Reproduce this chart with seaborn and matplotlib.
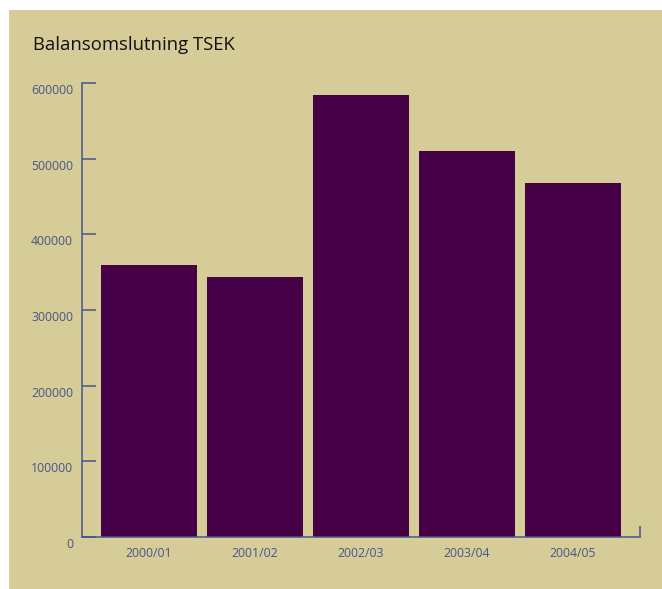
import matplotlib
matplotlib.use("Agg")
import matplotlib.pyplot as plt
import matplotlib.transforms as mtransforms
from matplotlib.patches import Rectangle
from matplotlib.ticker import FixedLocator
import seaborn as sns
import pandas as pd

years = ["2000/01", "2001/02", "2002/03", "2003/04", "2004/05"]
values = [359500, 343500, 584000, 510000, 468000]
yticks = [0, 100000, 200000, 300000, 400000, 500000, 600000]
title = "Balansomslutning TSEK"

W, H = 662, 589
BG = "#d6cc98"
BAR = "#460046"
AX = "#46558a"

sns.set_style("white")
plt.rcParams['font.family'] = ['Open Sans', 'DejaVu Sans']

fig = plt.figure(figsize=(W / 100, H / 100), dpi=100, facecolor="white")
bg = Rectangle((9 / W, 0), (W - 9) / W, (H - 10) / H,
               transform=fig.transFigure, facecolor=BG,
               edgecolor="none", zorder=-10)
fig.patches.append(bg)

ax = fig.add_axes([82 / W, (H - 537) / H, (640 - 82) / W, (537 - 83) / H])
ax.set_facecolor("none")
ax.set_zorder(5)

df = pd.DataFrame({"year": years, "value": values})
sns.barplot(data=df, x="year", y="value", color=BAR, saturation=1,
            width=0.906, ax=ax, edgecolor="none", linewidth=0)

ax.set_xlim(-0.632, 4.632)
ax.set_ylim(0, 600000)
ax.set_xlabel("")
ax.set_ylabel("")

for s in ["top", "right"]:
    ax.spines[s].set_visible(False)
for s in ["left", "bottom"]:
    ax.spines[s].set_color(AX)
    ax.spines[s].set_linewidth(1.1)

ax.set_yticks(yticks)
ax.set_yticklabels([str(v) for v in yticks])
ax.tick_params(axis="y", direction="in", length=10, width=1.1, color=AX,
               labelcolor=AX, labelsize=8.8, pad=6.5, left=True)
ax.tick_params(axis="x", length=0, labelcolor=AX, labelsize=8.8, pad=7)
ax.xaxis.set_minor_locator(FixedLocator([4.632]))
ax.tick_params(axis="x", which="minor", direction="in", length=8, width=1.1,
               color=AX, bottom=True)

off = mtransforms.ScaledTranslation(0, -6 / 100, fig.dpi_scale_trans)
for lab in ax.get_yticklabels():
    lab.set_transform(lab.get_transform() + off)

fig.text(33 / W, 1 - 45 / H, title, fontsize=13.3, color="#111111",
         ha="left", va="center")

fig.savefig("out.png", dpi=100, facecolor="white")
